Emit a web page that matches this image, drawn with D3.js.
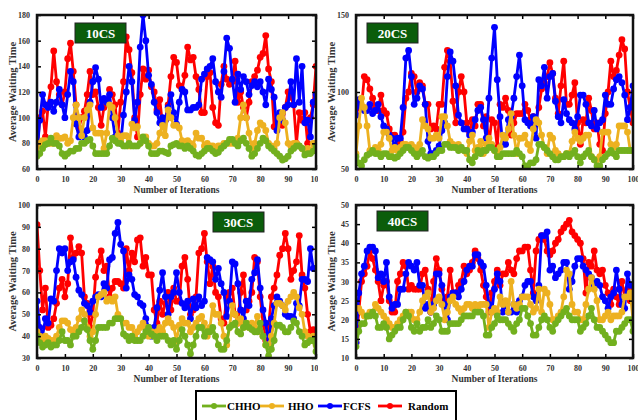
<!DOCTYPE html>
<html>
<head>
<meta charset="utf-8">
<script src="https://cdn.jsdelivr.net/npm/d3@7"></script>
<style>
  body { margin: 0; background: #fff; }
  svg { display: block; }
  text { font-family: "Liberation Serif", "Times New Roman", serif; font-weight: bold; }
</style>
</head>
<body>
<svg id="chart" width="638" height="420"></svg>
<script>
// ---- data ----
const iterations = d3.range(0, 101);
const seriesNames = ["CHHO", "HHO", "FCFS", "Random"];

// 10 cloud servers
const chho10 = [70,72,76,79,80,84,80,80,78,72, 70,72,74,74,76,76,80,80,82,83, 78,72,72,72,72,72,78,84,82,80,
  80,78,78,80,78,78,78,80,85,82, 78,72,72,72,74,74,73,72,78,79, 80,78,78,76,78,76,74,71,70,72,
  74,76,76,74,72,73,76,78,80,83, 83,80,78,82,84,80,76,70,72,76, 80,84,82,78,76,74,72,70,67,68,
  70,74,76,78,78,76,71,72,72,74, 78];
const hho10 = [72,80,82,82,80,80,80,86,84,84, 85,80,82,100,110,100,86,100,106,110, 92,88,88,88,76,88,110,108,100,86,
  82,86,86,78,95,92,93,80,84,85, 80,78,78,80,88,94,86,106,100,94, 94,92,82,80,82,80,78,88,84,84,
  78,80,78,78,76,78,78,80,80,80, 80,80,84,100,110,100,88,76,80,90, 96,94,90,80,78,76,80,100,104,96,
  80,78,80,80,78,76,74,76,74,80, 80];
const fcfs10 = [72,98,118,110,108,112,105,112,122,110, 100,118,136,128,95,85,88,85,90,112, 128,139,130,108,115,112,118,100,85,85,
  80,102,120,140,128,98,112,155,180,160, 133,126,112,104,96,100,98,108,118,104, 95,112,122,120,106,106,108,108,110,130,
  134,138,140,146,128,120,116,136,162,154, 130,112,134,122,132,128,118,125,128,124, 128,120,110,130,122,116,90,104,98,108,
  110,128,110,146,112,140,96,98,85,112, 118];
const rand10 = [72,100,105,85,110,124,152,128,118,110, 120,146,158,136,110,92,100,105,118,136, 118,120,108,94,108,112,122,118,110,88,
  112,128,163,153,135,100,85,118,138,130, 137,124,120,106,114,95,98,110,132,147, 143,125,122,133,155,145,147,132,122,104,
  104,132,135,108,96,94,126,140,130,126, 128,144,112,120,108,100,112,128,132,137, 147,150,164,138,128,93,92,100,94,108,
  120,116,110,80,104,98,104,80,100,110, 140];

// 20 cloud servers
const chho20 = [58,54,52,56,59,60,62,60,60,58, 60,60,58,58,57,58,60,62,64,64, 62,60,58,60,62,58,57,58,58,60,
  62,62,66,66,64,64,64,62,64,62, 62,56,54,58,62,60,62,62,64,64, 62,58,58,60,60,60,60,60,62,60,
  58,52,52,54,54,56,66,66,64,62, 60,58,56,56,58,58,60,58,60,62, 58,54,58,60,62,58,56,52,52,56,
  58,60,62,60,58,62,62,62,62,62, 62];
const hho20 = [60,78,96,90,78,62,62,64,62,66, 74,74,70,62,64,62,64,66,66,64, 66,64,62,66,82,78,76,70,70,72,
  70,84,84,78,68,66,64,66,64,62, 60,68,72,62,64,68,60,66,70,66, 62,60,64,72,70,76,86,72,60,70,
  70,72,66,62,76,82,80,72,64,60, 72,70,62,60,58,58,60,60,68,74, 70,68,70,72,72,58,56,56,58,74,
  74,74,66,64,66,78,78,78,74,62, 62];
const fcfs20 = [85,95,90,88,88,92,86,88,92,84, 78,76,72,70,65,70,70,90,122,127, 110,92,96,104,102,92,68,60,60,62,
  65,75,80,110,126,120,104,85,80,76, 76,72,74,82,88,90,82,70,96,122, 142,108,84,66,66,82,84,96,110,124,
  104,82,80,78,84,70,108,104,116,96, 110,112,94,84,80,95,86,82,80,76, 84,98,98,92,80,78,88,76,80,82,
  98,92,92,102,108,110,106,98,82,90, 104];
const rand20 = [85,90,90,110,108,102,96,90,88,98, 88,86,76,72,72,64,68,74,96,100, 112,110,100,106,104,92,92,76,78,76,
  92,92,116,127,120,94,80,100,110,100, 80,74,82,78,92,92,78,84,66,82, 80,64,92,90,96,88,72,80,86,86,
  86,92,88,82,84,82,90,102,106,110, 119,112,96,86,104,120,92,92,98,106, 80,66,82,80,96,88,76,80,66,62,
  86,100,120,110,114,124,134,128,100,90, 80];

// 30 cloud servers
const chho30 = [40,37,35,36,37,35,36,36,38,42, 38,38,36,40,40,42,44,47,43,38, 34,38,44,44,44,44,46,46,48,48,
  48,41,40,38,40,38,38,38,40,42, 44,41,40,38,40,40,40,38,36,38, 34,38,43,40,36,32,36,40,44,44,
  40,42,42,44,40,36,34,34,38,44, 45,46,42,41,44,46,44,43,42,42, 46,40,36,31,34,38,45,45,44,42,
  42,44,47,46,42,40,36,37,38,38, 33];
const hho30 = [42,40,38,40,39,38,38,40,44,47, 47,46,43,42,44,48,52,50,44,40, 42,50,58,59,60,56,57,56,58,50,
  48,46,46,44,44,40,42,44,46,44, 40,42,40,42,44,42,46,48,46,44, 38,45,48,46,46,42,44,46,48,49,
  46,40,44,54,50,50,46,40,36,44, 54,50,46,48,44,46,44,46,44,49, 42,40,36,36,40,46,55,55,54,52,
  56,58,60,58,53,50,42,40,38,40, 36];
const fcfs30 = [56,44,40,48,46,57,56,70,80,78, 80,70,74,75,67,61,59,55,54,51, 56,58,59,58,64,62,75,76,87,92,
  82,79,62,68,66,59,58,55,54,48, 44,40,44,53,61,69,58,50,58,60, 69,60,55,53,56,48,57,53,58,54,
  56,76,75,74,66,71,64,60,49,56, 74,73,64,52,48,56,54,66,69,75, 62,52,46,36,48,54,58,56,54,50,
  49,49,48,55,54,66,66,65,80,71, 71];
const rand30 = [91,70,52,62,44,45,48,55,62,66, 58,64,85,76,78,81,78,58,55,44, 50,67,74,79,70,72,58,62,65,65,
  64,62,80,70,78,74,84,85,72,76, 68,68,52,46,56,50,55,60,52,62, 56,56,72,76,66,50,52,58,78,80,
  87,74,64,72,60,58,48,46,58,60, 62,50,46,60,68,52,56,60,76,74, 58,46,38,44,58,62,68,77,80,87,
  80,66,70,74,86,68,62,50,42,43, 38];

// 40 cloud servers
const chho40 = [13,17,19,19,21,21,22,21,18,18, 19,18,15,16,17,18,18,20,22,21, 18,17,19,17,18,18,20,18,19,21,
  20,17,17,17,19,19,19,19,20,21, 21,21,21,22,22,22,21,16,16,18, 19,21,20,20,20,19,18,17,19,20,
  23,23,21,19,16,16,18,20,21,20, 18,17,19,20,21,22,23,21,20,20, 20,17,18,19,21,23,20,18,18,17,
  16,15,14,14,17,17,18,19,20,20, 17];
const hho40 = [23,23,22,21,21,22,22,24,23,22, 21,20,19,18,18,19,20,21,22,22, 22,20,20,22,25,26,27,22,23,25,
  26,24,20,22,25,26,24,23,22,23, 24,24,23,24,23,24,24,24,18,22, 23,22,26,24,25,22,30,24,23,24,
  26,26,26,24,22,23,28,22,28,27, 24,20,20,21,22,26,33,32,24,22, 22,20,20,24,28,31,28,25,20,20,
  21,22,20,21,21,21,22,26,26,27, 20];
const fcfs40 = [14,27,32,34,38,39,39,38,31,32, 30,35,26,23,24,24,28,28,32,35, 34,33,35,29,29,23,24,22,24,32,
  32,29,24,20,26,27,27,26,28,30, 33,34,34,37,37,35,34,29,24,22, 28,32,30,22,24,22,22,24,22,25,
  26,29,30,30,26,25,29,42,42,43, 33,34,31,32,33,35,35,28,30,34, 36,36,34,33,32,31,29,30,29,26,
  25,23,26,27,33,28,24,23,32,29, 29];
const rand40 = [14,22,30,32,34,38,36,33,30,25, 29,30,25,22,22,30,32,35,34,28, 29,28,28,28,32,33,28,22,30,36,
  33,28,25,26,33,27,27,29,30,34, 32,33,35,38,36,33,29,26,22,27, 30,33,29,32,32,35,33,32,36,38,
  38,39,39,33,27,38,41,42,41,38, 37,38,40,41,43,44,45,46,43,42, 41,40,36,27,35,34,38,33,32,33,
  29,27,24,28,26,24,30,26,28,25, 29];

const yTicks10 = [60, 80, 100, 120, 140, 160, 180];
const yTicks20 = [50, 100, 150];
const yTicks30 = [30, 40, 50, 60, 70, 80, 90, 100];
const yTicks40 = [10, 15, 20, 25, 30, 35, 40, 45, 50];
const xTicks = [0, 10, 20, 30, 40, 50, 60, 70, 80, 90, 100];

// ---- layout ----
const colors = { CHHO: "#72B01E", HHO: "#EDB120", FCFS: "#0000FF", Random: "#FF0000" };

const panels = [
  { label: "10CS", series: [chho10, hho10, fcfs10, rand10], yTicks: yTicks10,
    left: 37, right: 316, top: 15, bottom: 169, region: [0, 0, 318, 200], box: [75, 23] },
  { label: "20CS", series: [chho20, hho20, fcfs20, rand20], yTicks: yTicks20,
    left: 356, right: 633, top: 15, bottom: 169, region: [318, 0, 320, 200], box: [367, 23] },
  { label: "30CS", series: [chho30, hho30, fcfs30, rand30], yTicks: yTicks30,
    left: 37, right: 316, top: 205, bottom: 358, region: [0, 200, 318, 185], box: [213, 212] },
  { label: "40CS", series: [chho40, hho40, fcfs40, rand40], yTicks: yTicks40,
    left: 356, right: 633, top: 205, bottom: 358, region: [318, 200, 320, 185], box: [377, 211] }
];

const svg = d3.select("#chart");
svg.append("rect").attr("width", 638).attr("height", 420).attr("fill", "#fff");
const defs = svg.append("defs");

panels.forEach(function(p, i) {
  // clip for the whole subplot image and for the plotting area
  defs.append("clipPath").attr("id", "region" + i)
    .append("rect")
    .attr("x", p.region[0]).attr("y", p.region[1])
    .attr("width", p.region[2]).attr("height", p.region[3]);
  defs.append("clipPath").attr("id", "plot" + i)
    .append("rect")
    .attr("x", p.left).attr("y", p.top)
    .attr("width", p.right - p.left).attr("height", p.bottom - p.top);

  const g = svg.append("g").attr("clip-path", "url(#region" + i + ")");

  const x = d3.scaleLinear().domain([0, 100]).range([p.left, p.right]);
  const y = d3.scaleLinear()
    .domain([p.yTicks[0], p.yTicks[p.yTicks.length - 1]])
    .range([p.bottom, p.top]);

  // lines + markers, CHHO drawn last so it sits on top
  const plot = g.append("g").attr("clip-path", "url(#plot" + i + ")");
  const line = d3.line().x(function(d, j) { return x(iterations[j]); }).y(function(d) { return y(d); });
  [3, 2, 1, 0].forEach(function(k) {
    const name = seriesNames[k];
    const values = p.series[k];
    plot.append("path")
      .datum(values)
      .attr("fill", "none")
      .attr("stroke", colors[name])
      .attr("stroke-width", 2.8)
      .attr("stroke-linejoin", "round")
      .attr("d", line);
    plot.selectAll(null)
      .data(values)
      .enter()
      .append("circle")
      .attr("cx", function(d, j) { return x(iterations[j]); })
      .attr("cy", function(d) { return y(d); })
      .attr("r", 3.4)
      .attr("fill", colors[name]);
  });

  // axes with inward ticks
  const bottomAxis = g.append("g")
    .attr("transform", "translate(0," + p.bottom + ")")
    .call(d3.axisBottom(x).tickValues(xTicks).tickSize(-4).tickPadding(7));
  const leftAxis = g.append("g")
    .attr("transform", "translate(" + p.left + ",0)")
    .call(d3.axisLeft(y).tickValues(p.yTicks).tickSize(-4).tickPadding(7));
  const topAxis = g.append("g")
    .attr("transform", "translate(0," + p.top + ")")
    .call(d3.axisTop(x).tickValues(xTicks).tickSize(-4).tickFormat(""));
  const rightAxis = g.append("g")
    .attr("transform", "translate(" + p.right + ",0)")
    .call(d3.axisRight(y).tickValues(p.yTicks).tickSize(-4).tickFormat(""));

  [bottomAxis, leftAxis, topAxis, rightAxis].forEach(function(a) {
    a.select(".domain").remove();
    a.selectAll("line").attr("stroke", "#000").attr("stroke-width", 1.5);
    a.selectAll("text")
      .attr("font-size", "8px")
      .attr("fill", "#333")
      .style("font-family", "'Liberation Serif', serif")
      .style("font-weight", "bold");
  });

  // frame
  g.append("rect")
    .attr("x", p.left).attr("y", p.top)
    .attr("width", p.right - p.left).attr("height", p.bottom - p.top)
    .attr("fill", "none")
    .attr("stroke", "#111")
    .attr("stroke-width", 2.5);

  // axis titles
  g.append("text")
    .attr("x", (p.left + p.right) / 2)
    .attr("y", p.bottom + 24)
    .attr("text-anchor", "middle")
    .attr("font-size", "9.5px")
    .attr("fill", "#333")
    .text("Number of Iterations");
  g.append("text")
    .attr("transform", "translate(" + (p.left - 21) + "," + ((p.top + p.bottom) / 2) + ") rotate(-90)")
    .attr("text-anchor", "middle")
    .attr("font-size", "10.5px")
    .attr("fill", "#333")
    .text("Average Waiting Time");

  // green label box
  g.append("rect")
    .attr("x", p.box[0]).attr("y", p.box[1])
    .attr("width", 51).attr("height", 20)
    .attr("fill", "#0b5d0b")
    .attr("stroke", "#222")
    .attr("stroke-width", 1);
  g.append("text")
    .attr("x", p.box[0] + 25.5)
    .attr("y", p.box[1] + 14.5)
    .attr("text-anchor", "middle")
    .attr("font-size", "13px")
    .attr("fill", "#fff")
    .text(p.label);
});

// ---- legend ----
const legend = svg.append("g").attr("class", "legend");
legend.append("rect")
  .attr("x", 196).attr("y", 391)
  .attr("width", 260).attr("height", 40)
  .attr("fill", "#fff")
  .attr("stroke", "#000")
  .attr("stroke-width", 2);

const legendX = [202, 260, 318, 378];
const legendTextX = [227, 288, 343, 408];
seriesNames.forEach(function(name, k) {
  const row = legend.append("g");
  row.append("line")
    .attr("x1", legendX[k]).attr("x2", legendX[k] + 24)
    .attr("y1", 406).attr("y2", 406)
    .attr("stroke", colors[name])
    .attr("stroke-width", 2.8);
  row.append("circle")
    .attr("cx", legendX[k] + 12).attr("cy", 406)
    .attr("r", 3)
    .attr("fill", colors[name]);
  row.append("text")
    .attr("x", legendTextX[k]).attr("y", 410)
    .attr("font-size", "11px")
    .attr("fill", "#000")
    .text(name);
});
</script>
</body>
</html>
